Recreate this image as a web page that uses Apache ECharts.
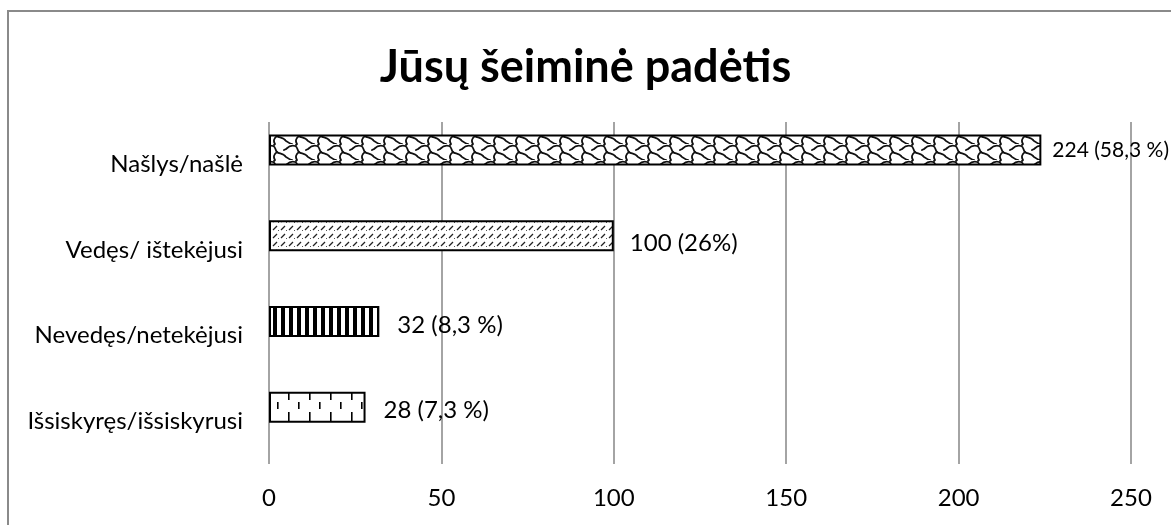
<!DOCTYPE html>
<html>
<head>
<meta charset="utf-8">
<script src="https://cdn.jsdelivr.net/npm/echarts@6/dist/echarts.min.js"></script>
<style>
  html, body { margin: 0; padding: 0; background: #fff; }
  #chart { width: 1171px; height: 525px; }
</style>
</head>
<body>
<div id="chart"></div>
<script>
// data
const categories = ['Našlys/našlė', 'Vedęs/ ištekėjusi', 'Nevedęs/netekėjusi', 'Išsiskyręs/išsiskyrusi']
const values = [224, 100, 32, 28]
const valueLabels = ['224 (58,3 %)', '100 (26%)', '32 (8,3 %)', '28 (7,3 %)']
const xTicks = [0, 50, 100, 150, 200, 250]

const FONT = 'Lato, "Open Sans", sans-serif'

// fill patterns like the excel ones
const makeTile = (w, h, draw) => {
  const c = document.createElement('canvas')
  c.width = w
  c.height = h
  const ctx = c.getContext('2d')
  ctx.fillStyle = '#fff'
  ctx.fillRect(0, 0, w, h)
  draw(ctx)
  return { image: c, repeat: 'repeat' }
}

// wave, about 21.5 x 15.5 in the picture
const wave = makeTile(22, 16, (ctx) => {
  ctx.strokeStyle = '#111'
  ctx.lineWidth = 1.8
  ctx.lineCap = 'round'
  ctx.beginPath()
  ctx.moveTo(0, 5)
  ctx.bezierCurveTo(3, 2, 6, 1, 9, 2)
  ctx.bezierCurveTo(12, 3, 11, 6, 13, 8)
  ctx.bezierCurveTo(15, 10, 19, 9, 22, 13)
  ctx.stroke()
  ctx.beginPath()
  ctx.moveTo(0, 13)
  ctx.bezierCurveTo(3, 15, 5, 16, 6, 16)
  ctx.stroke()
  ctx.beginPath()
  ctx.moveTo(13, 8)
  ctx.bezierCurveTo(10, 10, 9, 13, 11, 16)
  ctx.stroke()
  ctx.beginPath()
  ctx.moveTo(11, 0)
  ctx.lineTo(10, 1)
  ctx.stroke()
  ctx.beginPath()
  ctx.moveTo(22, 5)
  ctx.lineTo(20, 6)
  ctx.stroke()
})

const dashDiag = makeTile(8, 8, (ctx) => {
  ctx.strokeStyle = '#222'
  ctx.lineWidth = 1.2
  ctx.beginPath()
  ctx.moveTo(1, 6)
  ctx.lineTo(5, 2)
  ctx.stroke()
  ctx.fillStyle = '#555'
  ctx.fillRect(6, 6, 1, 1)
})

const vStripes = makeTile(8, 8, (ctx) => {
  ctx.fillStyle = '#000'
  ctx.fillRect(1, 0, 4, 8)
})

// short vertical dashes, period 21 both ways, bar top at y=391
const vDashes = makeTile(21, 21, (ctx) => {
  ctx.fillStyle = '#000'
  const off = 391 % 21
  const dash = (x, y, h) => {
    ctx.fillRect(x, y, 1.6, h)
    ctx.fillRect(x, y - 21, 1.6, h)
  }
  dash(15, off, 9)
  dash(4, off + 11, 7)
})

const patterns = [wave, dashDiag, vStripes, vDashes]
const labelStyles = [
  { distance: 11, fontSize: 21, offset: [0, 0] },
  { distance: 16, fontSize: 24, offset: [0, 8] },
  { distance: 18, fontSize: 24, offset: [0, 4] },
  { distance: 18, fontSize: 24, offset: [0, 3] }
]

const chart = echarts.init(document.getElementById('chart'))

const option = {
  backgroundColor: '#fff',
  animation: false,
  title: {
    text: 'Jūsų šeiminė padėtis',
    left: 'center',
    top: 40,
    textStyle: { fontFamily: FONT, fontSize: 45, fontWeight: 'bold', color: '#000' }
  },
  graphic: [
    {
      type: 'rect',
      shape: { x: 8, y: 11, width: 1200, height: 600 },
      style: { fill: 'none', stroke: '#8a8a8a', lineWidth: 2 },
      z: 100
    }
  ],
  // grid 0 holds the bars (sit a little high, as in the picture),
  // grid 1 holds gridlines, tick labels and category labels
  grid: [
    { left: 269, right: 40, top: 107, height: 343 },
    { left: 269, right: 40, top: 122, height: 342 }
  ],
  xAxis: [
    {
      gridIndex: 0,
      type: 'value',
      min: 0,
      max: 250,
      interval: 50,
      show: false
    },
    {
      gridIndex: 1,
      type: 'value',
      min: xTicks[0],
      max: xTicks[xTicks.length - 1],
      interval: 50,
      axisLine: { show: false },
      axisTick: { show: false },
      axisLabel: { fontFamily: FONT, fontSize: 24, color: '#000', margin: 22 },
      splitLine: { show: true, lineStyle: { color: '#868686', width: 1.5 } }
    }
  ],
  yAxis: [
    {
      gridIndex: 0,
      type: 'category',
      data: categories,
      inverse: true,
      show: false
    },
    {
      gridIndex: 1,
      type: 'category',
      data: categories,
      inverse: true,
      axisLine: { show: false },
      axisTick: { show: false },
      splitLine: { show: false },
      axisLabel: { fontFamily: FONT, fontSize: 24, color: '#000', margin: 26 }
    }
  ],
  series: [
    {
      type: 'bar',
      xAxisIndex: 0,
      yAxisIndex: 0,
      barWidth: 31,
      data: values.map((v, i) => ({
        value: v,
        itemStyle: { color: patterns[i], borderColor: '#000', borderWidth: 2 },
        label: {
          show: true,
          position: 'right',
          distance: labelStyles[i].distance,
          offset: labelStyles[i].offset,
          fontSize: labelStyles[i].fontSize,
          fontFamily: FONT,
          color: '#000',
          formatter: () => valueLabels[i]
        }
      })),
      z: 3
    }
  ]
}

chart.setOption(option)
</script>
</body>
</html>
